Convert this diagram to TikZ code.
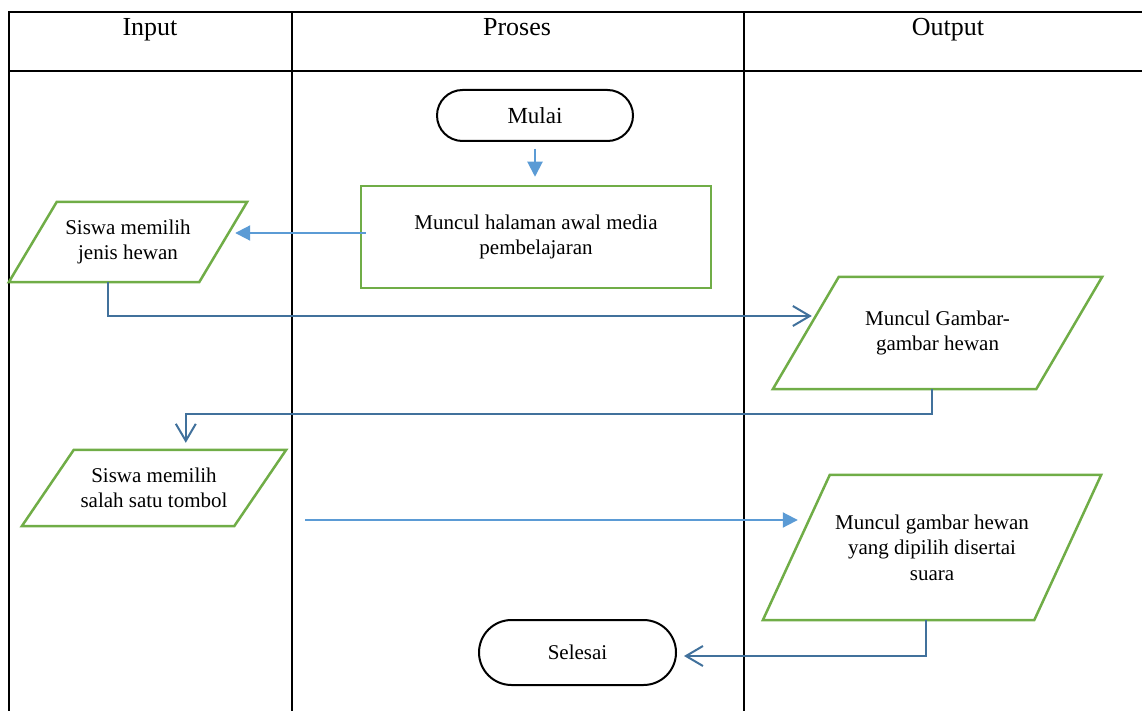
\documentclass[tikz,border=0pt]{standalone}
\usepackage{fontspec}
\setmainfont{Liberation Serif}
\usetikzlibrary{arrows.meta,calc,shapes.misc}
\definecolor{sgreen}{HTML}{70AD47}
\definecolor{lblue}{HTML}{5B9BD5}
\definecolor{dblue}{HTML}{41719C}
\begin{document}
\begin{tikzpicture}[x=1pt,y=-1pt,
  grid/.style={line width=2pt},
  head/.style={font=\fontsize{26}{30}\selectfont, anchor=base, inner sep=0pt},
  body/.style={font=\fontsize{21}{25.5}\selectfont, align=center, inner sep=0pt},
  term/.style={body, draw, line width=2pt, rounded rectangle},
  proc/.style={body, draw=sgreen, line width=2.5pt},
  io/.style={draw=sgreen, line width=2.5pt, line join=miter},
  arrF/.style={lblue, line width=2pt, -{Triangle[length=15pt,width=15pt]}},
  arrO/.style={dblue, line width=2pt, -{Straight Barb[length=17pt,width=20pt]}},
]
\useasboundingbox (0,0) rectangle (1142,711);
% table grid
\draw[grid] (1142,12) -- (9,12) -- (9,711);
\draw[grid] (9,71) -- (1142,71);
\draw[grid] (292,12) -- (292,711);
\draw[grid] (744,12) -- (744,711);
% headers
\node[head] (hin) at (150,36) {Input};
\node[head] (hpr) at (517,36) {Proses};
\node[head] (hout) at (948,36) {Output};
% terminals and process
\node[term, minimum width=196pt, minimum height=51pt, font=\fontsize{23}{27}\selectfont] (mulai) at (535,115.5) {Mulai};
\node[proc, minimum width=350pt, minimum height=102pt] (box) at (536,237) {Muncul halaman awal media\\pembelajaran};
\node[term, minimum width=197pt, minimum height=65pt] (selesai) at (577.5,652.5) {Selesai};
% parallelograms
\node[body, minimum width=238pt, minimum height=80pt] (p1) at (128,242) {Siswa memilih\\jenis hewan};
\draw[io] ($(p1.north west)+(48,0)$) -- (p1.north east) -- ($(p1.south east)-(48,0)$) -- (p1.south west) -- cycle;
\node[body, minimum width=329pt, minimum height=112pt] (p2) at (937.5,333) {Muncul Gambar-\\gambar hewan};
\draw[io] ($(p2.north west)+(66,0)$) -- (p2.north east) -- ($(p2.south east)-(66,0)$) -- (p2.south west) -- cycle;
\node[body, minimum width=264pt, minimum height=76pt] (p3) at (154,488) {Siswa memilih\\salah satu tombol};
\draw[io] ($(p3.north west)+(52,0)$) -- (p3.north east) -- ($(p3.south east)-(52,0)$) -- (p3.south west) -- cycle;
\node[body, minimum width=338pt, minimum height=145pt] (p4) at (932,547.5) {Muncul gambar hewan\\yang dipilih disertai\\suara};
\draw[io] ($(p4.north west)+(67,0)$) -- (p4.north east) -- ($(p4.south east)-(67,0)$) -- (p4.south west) -- cycle;
% connectors
\draw[arrF] ($(mulai.south)+(0,7)$) -- ($(mulai.south |- box.north)+(0,-8)$);
\draw[arrF] ($(box.west)+(6,-4)$) -- ($(box.west -| p1.east)+(-12,-4)$);
\draw[arrO] ($(p1.south west)+(99,0)$) |- ($(p2.west)+(39,-17)$);
\draw[arrO] ($(p2.south west)+(159,0)$) -- ++(0,25) -| ($(p3.north west)+(164,-7)$);
\coordinate (s5) at (305,520);
\draw[arrF] (s5) -- ($(p4.west)+(35,-27.5)$);
\draw[arrO] ($(p4.south west)+(163,0)$) |- ($(selesai.east)+(7,3.5)$);
\end{tikzpicture}
\end{document}
